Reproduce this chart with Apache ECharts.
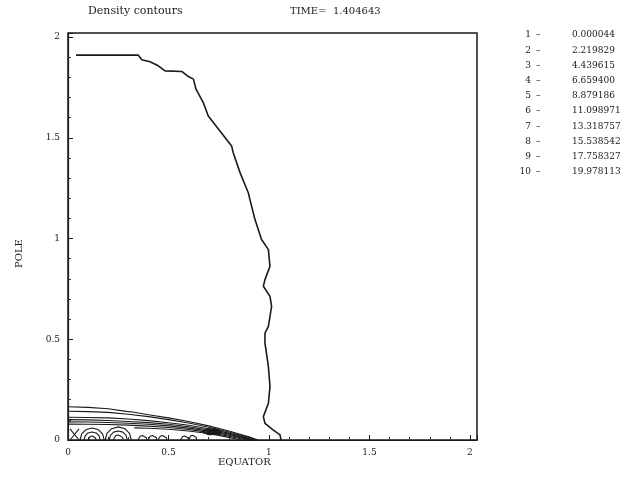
<!DOCTYPE html>
<html><head><meta charset="utf-8">
<script src="https://cdn.jsdelivr.net/npm/echarts@6/dist/echarts.min.js"></script>
<style>html,body{margin:0;padding:0;background:#fff}#c{width:620px;height:477px}</style>
</head><body><div id="c"></div>
<script>
var chartTitle = 'Density contours';
var timeLabel = 'TIME=  1.404643';
var xAxisName = 'EQUATOR';
var yAxisName = 'POLE';
var levelIds = ['1', '2', '3', '4', '5', '6', '7', '8', '9', '10'];
var levelValues = ['0.000044', '2.219829', '4.439615', '6.659400', '8.879186', '11.098971', '13.318757', '15.538542', '17.758327', '19.978113'];

// main density-front contour (level 1)
var frontLine = [[0.04,1.91],[0.35,1.91],[0.367,1.887],[0.408,1.877],[0.449,1.857],[0.483,1.832],[0.566,1.829],[0.599,1.804],[0.624,1.791],[0.637,1.741],[0.673,1.675],[0.698,1.608],[0.756,1.534],[0.814,1.459],[0.822,1.426],[0.856,1.327],[0.897,1.227],[0.905,1.194],[0.93,1.095],[0.963,0.995],[0.997,0.945],[1.005,0.862],[0.98,0.796],[0.972,0.763],[1.005,0.713],[1.013,0.663],[0.997,0.564],[0.98,0.531],[0.98,0.481],[0.997,0.365],[1.005,0.265],[0.997,0.182],[0.972,0.116],[0.98,0.083],[1.02,0.05],[1.055,0.025],[1.06,0]];

// near-equator layered contours
var layer1 = [[0,0.165],[0.1,0.162],[0.2,0.155],[0.29,0.142],[0.33,0.138],[0.4,0.125],[0.5,0.11],[0.6,0.092],[0.7,0.07],[0.8,0.045],[0.9,0.016],[0.945,0]];
var layer2 = [[0,0.143],[0.1,0.141],[0.2,0.137],[0.3,0.128],[0.4,0.116],[0.5,0.101],[0.6,0.084],[0.7,0.063],[0.8,0.04],[0.9,0.012],[0.935,0]];
var layer3 = [[0,0.113],[0.1,0.112],[0.2,0.11],[0.3,0.104],[0.4,0.096],[0.5,0.086],[0.6,0.073],[0.7,0.056],[0.8,0.034],[0.9,0.008],[0.925,0]];
var layer4 = [[0,0.101],[0.1,0.1],[0.2,0.097],[0.3,0.092],[0.4,0.086],[0.5,0.078],[0.6,0.066],[0.7,0.05],[0.8,0.029],[0.9,0.005],[0.915,0]];
var layer5 = [[0,0.09],[0.1,0.089],[0.2,0.087],[0.3,0.083],[0.4,0.078],[0.5,0.07],[0.6,0.059],[0.7,0.044],[0.8,0.024],[0.9,0.002],[0.905,0]];
var layer6 = [[0,0.079],[0.1,0.078],[0.2,0.077],[0.3,0.074],[0.4,0.069],[0.5,0.062],[0.6,0.052],[0.7,0.038],[0.8,0.019],[0.89,0]];
var layer7 = [[0.33,0.06],[0.4,0.058],[0.5,0.053],[0.6,0.045],[0.7,0.032],[0.8,0.013],[0.86,0]];

// small cells near the equator
var cellA1 = [[0.18,0],[0.172,0.03],[0.15,0.052],[0.12,0.06],[0.09,0.052],[0.068,0.03],[0.06,0]];
var cellA2 = [[0.16,0],[0.155,0.02],[0.14,0.035],[0.12,0.04],[0.1,0.035],[0.085,0.02],[0.08,0]];
var cellA3 = [[0.14,0],[0.137,0.01],[0.13,0.017],[0.12,0.02],[0.11,0.017],[0.103,0.01],[0.1,0]];
var cellB1 = [[0.315,0],[0.306,0.033],[0.283,0.056],[0.25,0.065],[0.217,0.056],[0.194,0.033],[0.185,0]];
var cellB2 = [[0.295,0],[0.289,0.023],[0.273,0.039],[0.25,0.045],[0.227,0.039],[0.211,0.023],[0.205,0]];
var cellB3 = [[0.275,0],[0.272,0.013],[0.263,0.022],[0.25,0.025],[0.237,0.022],[0.228,0.013],[0.225,0]];
var cellC = [[0.392,0],[0.39,0.011],[0.381,0.019],[0.37,0.022],[0.359,0.019],[0.35,0.011],[0.348,0]];
var cellD = [[0.442,0],[0.44,0.011],[0.431,0.019],[0.42,0.022],[0.409,0.019],[0.40,0.011],[0.398,0]];
var cellE = [[0.492,0],[0.49,0.011],[0.481,0.019],[0.47,0.022],[0.459,0.019],[0.45,0.011],[0.448,0]];
var cellF = [[0.6,0],[0.598,0.01],[0.59,0.017],[0.58,0.02],[0.57,0.017],[0.562,0.01],[0.56,0]];
var cellG = [[0.64,0],[0.638,0.012],[0.63,0.02],[0.62,0.024],[0.61,0.02],[0.602,0.012],[0.6,0]];
var crossA = [[0.01,0.055],[0.055,0]];
var crossB = [[0.01,0],[0.055,0.055]];
var blob1 = [[0.67,0.04],[0.69,0.052],[0.73,0.054],[0.76,0.042],[0.74,0.03],[0.7,0.028],[0.67,0.04]];
var blob2 = [[0.69,0.04],[0.705,0.047],[0.73,0.047],[0.745,0.04],[0.73,0.034],[0.705,0.034],[0.69,0.04]];
var blob3 = [[0.7,0.04],[0.715,0.044],[0.73,0.043],[0.735,0.04],[0.725,0.037],[0.71,0.037],[0.7,0.04]];

var contourSets = [layer1, layer2, layer3, layer4, layer5, layer6, layer7,
  cellA1, cellA2, cellA3, cellB1, cellB2, cellB3, cellC, cellD, cellE, cellF, cellG,
  crossA, crossB, blob1, blob2, blob3];

var serifFont = 'DejaVu Serif';
var series = [{
  type: 'line', data: frontLine, showSymbol: false, silent: true,
  lineStyle: {color: '#1a1a1a', width: 1.6}
}];
contourSets.forEach(function (d, i) {
  series.push({type: 'line', data: d, showSymbol: false, silent: true,
    lineStyle: {color: '#1a1a1a', width: i >= 20 ? 2 : 1.1}});
});

var graphics = [
  {type: 'text', left: 88, top: 6, style: {text: chartTitle, font: '11px ' + serifFont, fill: '#1a1a1a'}},
  {type: 'text', left: 290, top: 6, style: {text: timeLabel, font: '10px ' + serifFont, fill: '#1a1a1a'}},
  {type: 'text', left: 218, top: 457, style: {text: xAxisName, font: '10px ' + serifFont, fill: '#1a1a1a'}},
  {type: 'text', x: 14, y: 268, rotation: Math.PI / 2, style: {text: yAxisName, font: '10px ' + serifFont, fill: '#1a1a1a'}}
];
levelIds.forEach(function (id, i) {
  var y = 35 + i * 15.2;
  graphics.push({type: 'text', x: 531, y: y, style: {text: id, font: '9px ' + serifFont, fill: '#1a1a1a', align: 'right', verticalAlign: 'middle'}});
  graphics.push({type: 'text', x: 536, y: y, style: {text: '\u2013', font: '9px ' + serifFont, fill: '#1a1a1a', verticalAlign: 'middle'}});
  graphics.push({type: 'text', x: 572, y: y, style: {text: levelValues[i], font: '9px ' + serifFont, fill: '#1a1a1a', verticalAlign: 'middle'}});
});

var axisCommon = {
  type: 'value', min: 0, interval: 0.5,
  axisLine: {show: true, onZero: false, lineStyle: {color: '#1a1a1a', width: 1.2}},
  axisTick: {show: true, inside: true, length: 5, lineStyle: {color: '#1a1a1a'}},
  minorTick: {show: true, splitNumber: 5, length: 3, lineStyle: {color: '#333'}},
  splitLine: {show: false},
  axisLabel: {color: '#1a1a1a', fontFamily: serifFont, fontSize: 9, showMaxLabel: false,
    formatter: function (v) { return String(+v.toFixed(2)); }}
};

var chart = echarts.init(document.getElementById('c'), null, {renderer: 'canvas'});
chart.setOption({
  animation: false,
  backgroundColor: '#fff',
  grid: {left: 68, right: 143, top: 33, bottom: 37, show: true, borderColor: '#1a1a1a', borderWidth: 1.5, containLabel: false},
  xAxis: Object.assign({}, axisCommon, {max: 2.035, axisLabel: Object.assign({}, axisCommon.axisLabel, {margin: 8})}),
  yAxis: Object.assign({}, axisCommon, {max: 2.02, axisLabel: Object.assign({}, axisCommon.axisLabel, {margin: 8})}),
  series: series,
  graphic: graphics
});
</script></body></html>
